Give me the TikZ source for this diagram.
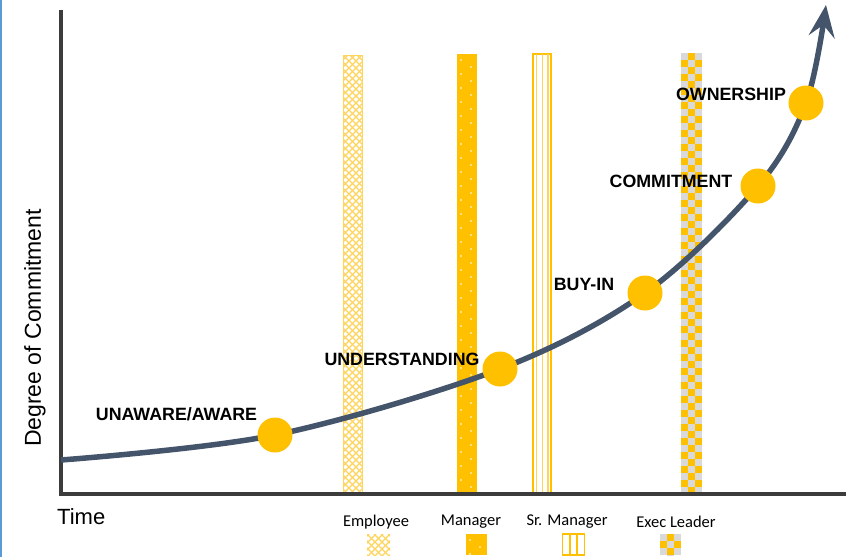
\documentclass[tikz,border=0pt]{standalone}
\usepackage{fontspec}
\setmainfont{Liberation Sans}
\newfontfamily\legendfont{Carlito}
\usetikzlibrary{arrows.meta}

\definecolor{gold}{HTML}{FFC000}
\definecolor{paleGold}{HTML}{FFD45C}
\definecolor{slate}{HTML}{44546A}
\definecolor{axisGray}{HTML}{3C3C3C}
\definecolor{checkGray}{HTML}{D9D9D9}
\definecolor{edgeBlue}{HTML}{5B9BD5}

\tikzset{
  stage/.style={circle,fill=gold,minimum size=35pt,inner sep=0pt},
  lbl/.style={font=\fontsize{17.8}{20}\selectfont\bfseries,inner sep=0pt},
  hatch/.style={draw=paleGold,line width=1.3pt},
  legend/.style={font=\legendfont\fontsize{16.5}{18}\selectfont,inner sep=0pt}
}

% crosshatch strip: left, top, right, bottom
\newcommand{\empbar}[4]{%
  \begin{scope}
    \clip (#1,#2) rectangle (#3,#4);
    \foreach \k in {0,7,...,490} {
      \draw[hatch] (#1-462+\k,#2) -- ++(470,470);
      \draw[hatch] (#3+462-\k,#2) -- ++(-470,470);
    }
  \end{scope}}
% solid strip with white dots
\newcommand{\mgrbar}[4]{%
  \fill[gold] (#1,#2) rectangle (#3,#4);
  \begin{scope}
    \clip (#1,#2) rectangle (#3,#4);
    \foreach \r in {0,...,32} {
      \fill[white] (#1+4,#2+6+14*\r) circle (0.9);
      \fill[white] (#1+14,#2+13+14*\r) circle (0.9);
    }
  \end{scope}}
% checkerboard strip
\newcommand{\execbar}[4]{%
  \fill[gold] (#1,#2) rectangle (#3,#4);
  \begin{scope}
    \clip (#1,#2) rectangle (#3,#4);
    \foreach \r in {0,2,...,64} {
      \fill[checkGray] (#1,#2+7*\r) rectangle ++(7,7);
      \fill[checkGray] (#1+14,#2+7*\r) rectangle ++(7,7);
      \fill[checkGray] (#1+7,#2+7*\r+7) rectangle ++(7,7);
    }
  \end{scope}}

\begin{document}
\begin{tikzpicture}[x=1pt,y=-1pt]
\useasboundingbox (0,0) rectangle (846,557);
\draw[edgeBlue,line width=2pt] (1,0) -- (1,557);

% level strips
\empbar{343}{55}{362}{494}
\draw[paleGold,line width=1pt] (343,55) rectangle (362,494);
\mgrbar{457}{54}{477}{494}
\draw[gold,line width=1.3pt] (533,54) rectangle (551,494);
\foreach \x in {536.5,542.5,548} \draw[paleGold,line width=1.3pt] (\x,54) -- (\x,494);
\execbar{681}{53}{702}{494}

% axes
\coordinate (origin) at (61,494);
\coordinate (ytop) at (61,10);
\coordinate (xend) at (846,494);
\draw[axisGray,line width=3.5pt] (ytop) -- (origin) -- (xend);
\node[font=\fontsize{23}{25}\selectfont,rotate=90] (ylab) at (35,328) {Degree of Commitment};
\node[font=\fontsize{22}{24}\selectfont,anchor=west,inner sep=0pt] (xlab) at (57,517) {Time};

% the curve and its stages
\coordinate (start) at (61,460);
\coordinate (p1) at (275,435);
\coordinate (p2) at (500,369);
\coordinate (p3) at (645,293);
\coordinate (p4) at (758,186);
\coordinate (p5) at (806,103);
\coordinate (tip) at (826,5);
\draw[slate,line width=5.5pt,-{Stealth[length=32pt,width=26pt,inset=12pt]}]
  plot[smooth,tension=0.55] coordinates {(start) (p1) (p2) (p3) (p4) (p5) (tip)};
\node[stage] (aware) at (p1) {};
\node[stage] (underst) at (p2) {};
\node[stage] (buyin) at (p3) {};
\node[stage] (commit) at (p4) {};
\node[stage] (owner) at (p5) {};

\node[lbl] (awaretxt) at (176.5,414) {UNAWARE/AWARE};
\node[lbl] (understtxt) at (402,359) {UNDERSTANDING};
\node[lbl] (buyintxt) at (584,284) {BUY-IN};
\node[lbl] (committxt) at (671,181) {COMMITMENT};
\node[lbl] (ownertxt) at (731,94) {OWNERSHIP};

% legend
\node[legend] (lemp) at (376,522) {Employee};
\node[legend] (lmgr) at (471,522) {Manager};
\node[legend] (lsr) at (567,522) {Sr. Manager};
\node[legend] (lexec) at (676,522) {Exec Leader};
\empbar{367}{534}{390}{555}
\mgrbar{466}{534}{487}{555}
\draw[gold,line width=1.2pt] (562.5,534) rectangle (584.5,555);
\foreach \x in {570,577} \draw[gold,line width=1.2pt] (\x,534) -- (\x,555);
\execbar{660}{534}{681}{555}
\end{tikzpicture}
\end{document}
